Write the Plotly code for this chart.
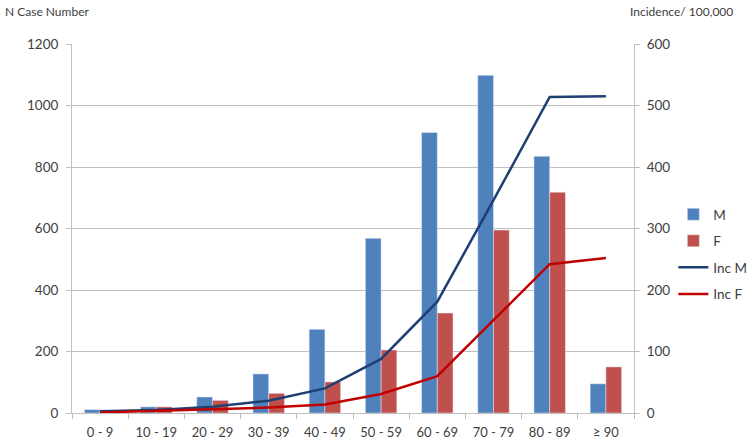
import plotly.graph_objects as go

categories = ["0 - 9", "10 - 19", "20 - 29", "30 - 39", "40 - 49", "50 - 59",
              "60 - 69", "70 - 79", "80 - 89", "≥ 90"]
cases_m = [11, 20, 52, 127, 272, 568, 912, 1098, 835, 95]
cases_f = [3, 20, 41, 64, 101, 205, 325, 595, 718, 150]
inc_m = [3, 5, 10, 20, 40, 88, 181, 346, 514, 515]
inc_f = [1, 3, 6, 9, 14, 31, 60, 151, 242, 252]

left_ticks = [0, 200, 400, 600, 800, 1000, 1200]
right_ticks = [0, 100, 200, 300, 400, 500, 600]

FONT = "Lato, Open Sans, sans-serif"
GRID = "#BFBFBF"

fig = go.Figure()
fig.add_trace(go.Bar(x=categories, y=cases_m, name="M", marker_color="#4F81BD",
                     legendgroup="g1"))
fig.add_trace(go.Bar(x=categories, y=cases_f, name="F", marker_color="#C0504D",
                     legendgroup="g2"))
fig.add_trace(go.Scatter(x=categories, y=inc_m, name="Inc M", yaxis="y2", mode="lines",
                         line=dict(color="#1F3F73", width=2.5), legendgroup="g3"))
fig.add_trace(go.Scatter(x=categories, y=inc_f, name="Inc F", yaxis="y2", mode="lines",
                         line=dict(color="#C00000", width=2.5), legendgroup="g4"))

fig.update_layout(
    width=750, height=442,
    margin=dict(l=72, r=116, t=44, b=29, autoexpand=False),
    paper_bgcolor="white", plot_bgcolor="white",
    font=dict(family=FONT, size=14, color="#404040"),
    barmode="group", bargap=0.44, bargroupgap=0,
    xaxis=dict(type="category", showline=True, linecolor=GRID, linewidth=1,
               ticks="outside", tickson="boundaries", tickcolor=GRID, ticklen=5,
               showgrid=False, tickfont=dict(size=13), ticklabelstandoff=7,
               automargin=False),
    yaxis=dict(range=[0, 1200], tickvals=left_ticks, showgrid=True, gridcolor=GRID,
               showline=True, linecolor=GRID, ticks="outside", tickcolor=GRID, ticklen=5,
               zeroline=False, tickfont=dict(size=13.5), ticklabelstandoff=5,
               automargin=False),
    yaxis2=dict(range=[0, 600], tickvals=right_ticks, overlaying="y", side="right",
                showgrid=False, showline=True, linecolor=GRID, ticks="outside",
                tickcolor=GRID, ticklen=5, zeroline=False, tickfont=dict(size=13.5),
                ticklabelstandoff=4, automargin=False),
    legend=dict(x=1.07, y=0.58, xanchor="left", yanchor="top",
                font=dict(size=13.5, color="#404040"), tracegroupgap=6,
                itemwidth=30, bgcolor="rgba(0,0,0,0)"),
    showlegend=True,
)
fig.add_annotation(text="N Case Number", xref="paper", yref="paper", x=-0.123, y=1.087,
                   xanchor="left", yanchor="middle", showarrow=False,
                   font=dict(size=12, color="#404040"))
fig.add_annotation(text="Incidence/ 100,000", xref="paper", yref="paper", x=1.18, y=1.087,
                   xanchor="right", yanchor="middle", showarrow=False,
                   font=dict(size=12, color="#404040"))

fig.write_html("out.html", config={"displayModeBar": False},
               post_script="document.body.style.margin='0';document.body.style.overflow='hidden';")
